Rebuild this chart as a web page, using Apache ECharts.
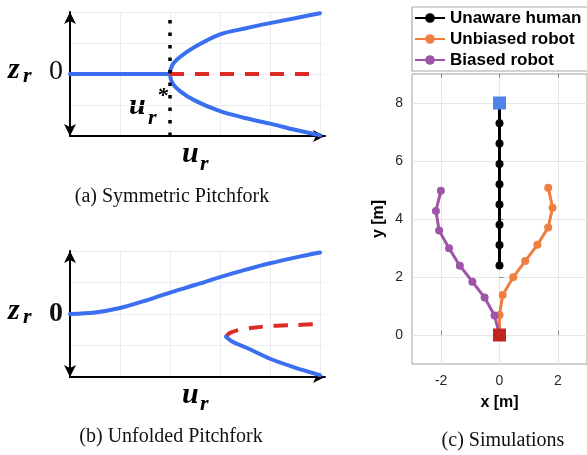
<!DOCTYPE html>
<html><head><meta charset="utf-8">
<script src="https://cdn.jsdelivr.net/npm/echarts@6/dist/echarts.min.js"></script>
<style>html,body{margin:0;padding:0;background:#fff}#c{width:587px;height:455px}</style>
</head><body><div id="c"></div><script>
// ---- Panel (a): symmetric pitchfork ----
const aLeftU = [0, 2];
const aLeftZ = [0, 0];
const aForkU = [5, 4.5, 4, 3.5, 3, 2.5, 2.2, 2.05, 2, 2.05, 2.2, 2.5, 3, 3.5, 4, 4.5, 5];
const aForkZ = [-1.98, -1.8, -1.6, -1.42, -1.2, -0.86, -0.55, -0.3, 0, 0.3, 0.55, 0.88, 1.28, 1.47, 1.64, 1.8, 1.96];
const aUnstableU = [2, 5];
const aUnstableZ = [0, 0];
const aCritU = [2, 2];
const aCritZ = [-2, 2];
// ---- Panel (b): unfolded pitchfork ----
const bUpperU = [0, 0.5, 1, 1.5, 2, 2.5, 3, 3.5, 4, 4.5, 5];
const bUpperZ = [0, 0.05, 0.19, 0.42, 0.68, 0.92, 1.17, 1.40, 1.61, 1.79, 1.95];
const bUnstableU = [3.12, 3.2, 3.4, 3.7, 4, 4.5, 5];
const bUnstableZ = [-0.72, -0.6, -0.5, -0.43, -0.38, -0.35, -0.32];
const bLowerU = [3.12, 3.27, 3.53, 4, 4.5, 5];
const bLowerZ = [-0.72, -0.9, -1.07, -1.42, -1.7, -1.94];
// ---- Panel (c): simulations ----
const humanX = [0, 0, 0, 0, 0, 0, 0, 0, 0];
const humanY = [8, 7.3, 6.6, 5.9, 5.2, 4.5, 3.8, 3.1, 2.4];
const unbiasedX = [0, 0, 0.11, 0.47, 0.88, 1.3, 1.67, 1.82, 1.67];
const unbiasedY = [0, 0.69, 1.38, 1.99, 2.55, 3.11, 3.71, 4.39, 5.08];
const biasedX = [0, -0.17, -0.51, -0.93, -1.36, -1.73, -2.07, -2.18, -2.01];
const biasedY = [0, 0.67, 1.29, 1.84, 2.39, 2.99, 3.6, 4.28, 4.97];
const humanStart = [[0, 8]];
const robotStart = [[0, 0]];
const cTicksX = [-2, 0, 2];
const cTicksY = [0, 2, 4, 6, 8];
const seriesNames = ['Unaware human', 'Unbiased robot', 'Biased robot'];

const zip = (a, b) => a.map((v, i) => [v, b[i]]);
const BLUE = '#3a6ff0', RED = '#dd2b25';
const serif = 'Liberation Serif';
const mathStyle = (t, x, y, size) => ({ type: 'text', x, y, style: { text: t, fontFamily: serif, fontSize: size, fontStyle: 'italic', fontWeight: 'bold', fill: '#000', textVerticalAlign: 'middle' } });
const plainText = (t, x, y, size, align, weight) => ({ type: 'text', x, y, style: { text: t, fontFamily: serif, fontSize: size, fontWeight: weight || 'normal', fill: '#111', textAlign: align || 'left', textVerticalAlign: 'middle' } });

function schemAxes(gi) {
  return {
    x: { type: 'value', gridIndex: gi, min: 0, max: 5.1, interval: 1,
      axisLine: { show: true, onZero: false, symbol: ['none', 'arrow'], symbolSize: [9, 12], lineStyle: { color: '#000', width: 2 } },
      axisTick: { show: false }, axisLabel: { show: false },
      splitLine: { show: true, showMinLine: false, showMaxLine: false, lineStyle: { color: '#ececec', width: 1 } } },
    y: { type: 'value', gridIndex: gi, min: -2, max: 2, interval: 1,
      axisLine: { show: true, onZero: false, symbol: ['arrow', 'arrow'], symbolSize: [9, 12], lineStyle: { color: '#000', width: 2 } },
      axisTick: { show: false }, axisLabel: { show: false },
      splitLine: { show: true, showMinLine: false, lineStyle: { color: '#ececec', width: 1 } } }
  };
}
const A = schemAxes(0), B = schemAxes(1);
const lineS = (xi, data, color, extra) => Object.assign({ type: 'line', xAxisIndex: xi, yAxisIndex: xi, data, showSymbol: false, silent: true,
  lineStyle: { color, width: 4, cap: 'round' }, itemStyle: { color }, animation: false }, extra || {});

const cAxisLine = { show: false };
const option = {
  animation: false,
  grid: [
    { left: 70, top: 12, width: 255, height: 124 },
    { left: 70, top: 251, width: 255, height: 126 },
    { left: 412, top: 74, width: 177, height: 290, show: true, borderColor: '#a0a0a0', borderWidth: 1 }
  ],
  legend: {
    data: seriesNames, orient: 'vertical', left: 412, top: 7, itemWidth: 30, itemHeight: 12, itemGap: 3,
    padding: [2, 40, 2, 2], borderColor: '#a8a8a8', borderWidth: 1.2, backgroundColor: '#fff',
    textStyle: { fontFamily: 'Liberation Sans', fontWeight: 'bold', fontSize: 17, color: '#000', lineHeight: 18 }
  },
  xAxis: [A.x, B.x,
    { type: 'value', gridIndex: 2, min: -3, max: 3, name: 'x [m]', nameLocation: 'middle', nameGap: 31,
      nameTextStyle: { fontFamily: 'Liberation Sans', fontWeight: 'bold', fontSize: 16, color: '#000' },
      axisLine: cAxisLine, axisTick: { show: true, inside: true, length: 4, customValues: cTicksX, lineStyle: { color: '#888' } },
      axisLabel: { customValues: cTicksX, fontFamily: 'Liberation Sans', fontSize: 14, color: '#262626', margin: 10 },
      splitLine: { show: true, lineStyle: { color: '#e6e6e6' } } },
    { type: 'value', gridIndex: 2, position: 'top', min: -3, max: 3,
      axisLine: cAxisLine, axisTick: { show: true, inside: true, length: 4, customValues: cTicksX, lineStyle: { color: '#888' } },
      axisLabel: { show: false }, splitLine: { show: false } }
  ],
  yAxis: [A.y, B.y,
    { type: 'value', gridIndex: 2, min: -1, max: 9, name: 'y [m]', nameLocation: 'middle', nameGap: 25, nameRotate: 90,
      nameTextStyle: { fontFamily: 'Liberation Sans', fontWeight: 'bold', fontSize: 16, color: '#000' },
      axisLine: cAxisLine, axisTick: { show: true, inside: true, length: 4, customValues: cTicksY, lineStyle: { color: '#888' } },
      axisLabel: { customValues: cTicksY, fontFamily: 'Liberation Sans', fontSize: 14, color: '#262626', margin: 9 },
      splitLine: { show: true, lineStyle: { color: '#e6e6e6' } } }
  ],
  series: [
    lineS(0, zip(aLeftU, aLeftZ), BLUE),
    lineS(0, zip(aForkU, aForkZ), BLUE, { smooth: 0.3 }),
    lineS(0, zip(aUnstableU, aUnstableZ), RED, { lineStyle: { color: RED, width: 4, type: [14, 11] } }),
    lineS(0, zip(aCritU, aCritZ), '#000', { z: 5, lineStyle: { color: '#000', width: 3.5, type: [3.5, 9], cap: 'butt' } }),
    lineS(1, zip(bUpperU, bUpperZ), BLUE, { smooth: 0.3 }),
    lineS(1, zip(bUnstableU, bUnstableZ), RED, { smooth: 0.3, lineStyle: { color: RED, width: 4, type: [14, 11] } }),
    lineS(1, zip(bLowerU, bLowerZ), BLUE, { smooth: 0.3 }),
    { name: seriesNames[0], type: 'line', xAxisIndex: 2, yAxisIndex: 2, data: zip(humanX, humanY), symbol: 'circle', symbolSize: 8,
      lineStyle: { color: '#000', width: 3 }, itemStyle: { color: '#000' } },
    { name: seriesNames[1], type: 'line', xAxisIndex: 2, yAxisIndex: 2, data: zip(unbiasedX, unbiasedY), symbol: 'circle', symbolSize: 8,
      lineStyle: { color: '#ee7f40', width: 3 }, itemStyle: { color: '#ee7f40' } },
    { name: seriesNames[2], type: 'line', xAxisIndex: 2, yAxisIndex: 2, data: zip(biasedX, biasedY), symbol: 'circle', symbolSize: 8,
      lineStyle: { color: '#9e55a8', width: 3 }, itemStyle: { color: '#9e55a8' } },
    { type: 'scatter', xAxisIndex: 2, yAxisIndex: 2, data: humanStart, symbol: 'rect', symbolSize: 13, z: 10, itemStyle: { color: '#4f82ea', opacity: 1 } },
    { type: 'scatter', xAxisIndex: 2, yAxisIndex: 2, data: robotStart, symbol: 'rect', symbolSize: 13, z: 10, itemStyle: { color: '#c0261d', opacity: 1 } }
  ],
  graphic: [
    mathStyle('z', 8, 70, 30), mathStyle('r', 23, 76, 22), plainText('0', 49, 72, 28, 'left'),
    mathStyle('u', 129, 106, 30), mathStyle('r', 148, 118, 22), mathStyle('*', 157, 96, 22),
    mathStyle('u', 182, 154, 30), mathStyle('r', 200, 164, 22),
    plainText('(a) Symmetric Pitchfork', 172, 197, 20, 'center'),
    mathStyle('z', 8, 311, 30), mathStyle('r', 23, 317, 22), plainText('0', 49, 314, 28, 'left', 'bold'),
    mathStyle('u', 182, 395, 30), mathStyle('r', 200, 404, 22),
    plainText('(b) Unfolded Pitchfork', 171, 437, 20, 'center'),
    plainText('(c) Simulations', 503, 441, 20, 'center')
  ]
};
const chart = echarts.init(document.getElementById('c'), null, { renderer: 'canvas' });
chart.setOption(option);
</script></body></html>
